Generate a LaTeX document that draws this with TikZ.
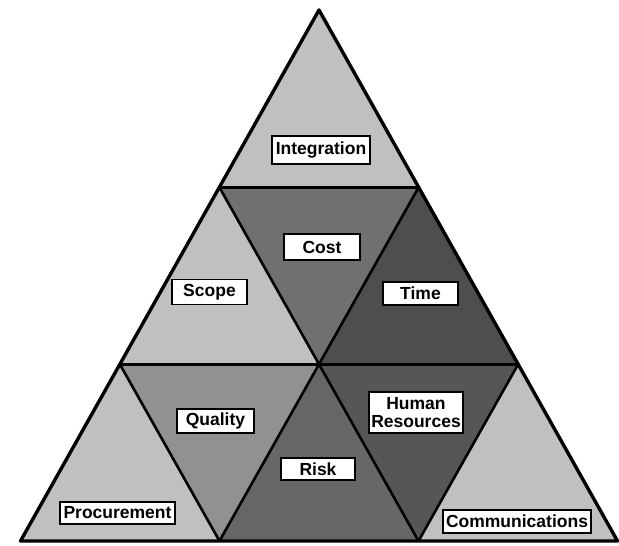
\documentclass[tikz,border=0pt]{standalone}
\usepackage{fontspec}
\setmainfont{Liberation Sans}
\definecolor{lightfill}{RGB}{192,192,192}
\definecolor{costfill}{RGB}{112,112,112}
\definecolor{timefill}{RGB}{78,78,78}
\definecolor{qualfill}{RGB}{145,145,145}
\definecolor{riskfill}{RGB}{103,103,103}
\definecolor{hrfill}{RGB}{86,86,86}
\tikzset{
  lbl/.style={draw=black, line width=1.2pt, fill=white, inner sep=0pt,
    font=\fontsize{17.5}{18.5}\selectfont\bfseries, align=center},
  tri/.style={line width=2.6pt, line join=round},
}
\begin{document}
\begin{tikzpicture}[x=1pt,y=-1pt]
\useasboundingbox (0,0) rectangle (619,546);
\fill[white] (0,0) rectangle (619,546);
\coordinate (A) at (319,10);
\coordinate (B1) at (219.5,187.5);
\coordinate (B2) at (418.5,187.5);
\coordinate (C1) at (120,364.5);
\coordinate (C2) at (319,364.5);
\coordinate (C3) at (518,364.5);
\coordinate (D1) at (20.5,541);
\coordinate (D2) at (219.5,541);
\coordinate (D3) at (418.5,541);
\coordinate (D4) at (617.5,541);
% fills
\fill[lightfill] (A) -- (B1) -- (B2) -- cycle;
\fill[costfill] (B1) -- (B2) -- (C2) -- cycle;
\fill[lightfill] (B1) -- (C1) -- (C2) -- cycle;
\fill[timefill] (B2) -- (C2) -- (C3) -- cycle;
\fill[qualfill] (C1) -- (C2) -- (D2) -- cycle;
\fill[lightfill] (C1) -- (D1) -- (D2) -- cycle;
\fill[riskfill] (C2) -- (D2) -- (D3) -- cycle;
\fill[hrfill] (C2) -- (C3) -- (D3) -- cycle;
\fill[lightfill] (C3) -- (D3) -- (D4) -- cycle;
% lines
\draw[tri] (B1) -- (B2);
\draw[tri] (C1) -- (C3);
\draw[tri] (B1) -- (D3);
\draw[tri] (B2) -- (D2);
\draw[tri] (C1) -- (D2);
\draw[tri] (C3) -- (D3);
\draw[tri, line width=3.4pt] (A) -- (D1) -- (D4) -- cycle;
% labels
\node[lbl, minimum width=98pt, minimum height=28pt] (integ) at (321,150) {Integration};
\node[lbl, minimum width=76pt, minimum height=26pt] (cost) at (322,247) {Cost};
\node[lbl, minimum width=75pt, minimum height=25pt] (scope) at (209.5,292) {Scope};
\node[lbl, minimum width=75pt, minimum height=23pt] (time) at (420.5,293.5) {Time};
\node[lbl, minimum width=77pt, minimum height=24pt] (qual) at (215.5,421) {Quality};
\node[lbl, minimum width=74pt, minimum height=22pt] (risk) at (318,469) {Risk};
\node[lbl, minimum width=94pt, minimum height=41pt] (hr) at (416,412.5) {Human\\Resources};
\node[lbl, minimum width=115pt, minimum height=22pt] (proc) at (117.5,513) {Procurement};
\node[lbl, minimum width=148pt, minimum height=23pt] (comm) at (517,521.5) {Communications};
\end{tikzpicture}
\end{document}
